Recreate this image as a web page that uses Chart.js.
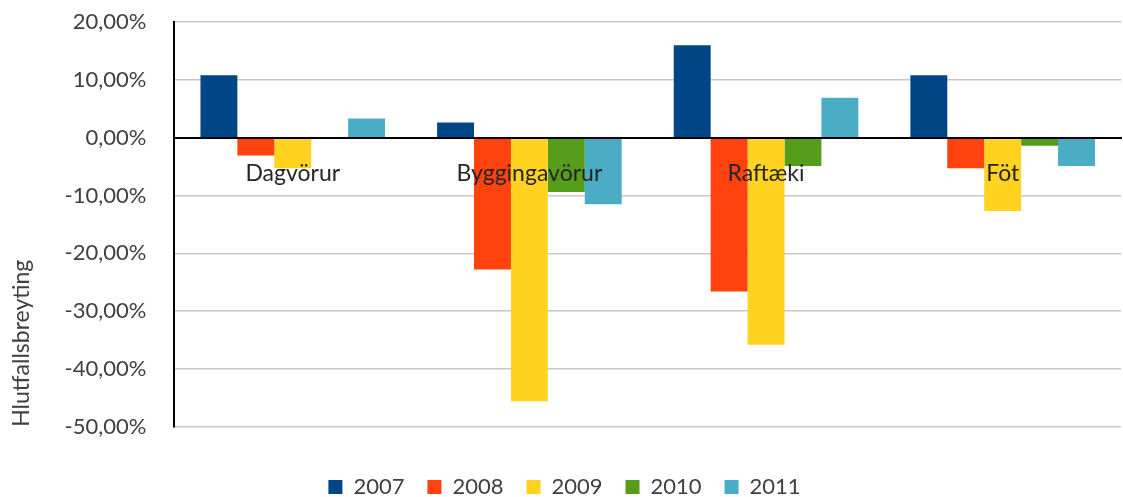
<!DOCTYPE html>
<html>
<head>
<meta charset="utf-8">
<script src="https://cdn.jsdelivr.net/npm/chart.js@4"></script>
<style>
html,body{margin:0;padding:0;background:#fff;}
#wrap{width:1123px;height:497px;}
</style>
</head>
<body>
<div id="wrap"><canvas id="c" width="1123" height="497"></canvas></div>
<script>
const categories = ["Dagvörur", "Byggingavörur", "Raftæki", "Föt"];
const years = ["2007", "2008", "2009", "2010", "2011"];
const v2007 = [10.8, 2.6, 16.0, 10.8];
const v2008 = [-3.1, -22.8, -26.6, -5.3];
const v2009 = [-5.3, -45.6, -35.8, -12.7];
const v2010 = [0.0, -9.4, -4.9, -1.4];
const v2011 = [3.3, -11.5, 6.9, -4.9];
const yTicks = [-50, -40, -30, -20, -10, 0, 10, 20];
const colors = ["#004586", "#ff420e", "#ffd320", "#579d1c", "#4bacc6"];
const seriesValues = [v2007, v2008, v2009, v2010, v2011];

const fontFam = "Lato, 'Open Sans', sans-serif";

new Chart(document.getElementById('c'), {
  type: 'bar',
  data: {
    labels: categories,
    datasets: years.map((y, i) => ({
      label: y,
      data: seriesValues[i],
      backgroundColor: colors[i],
      borderWidth: 0,
      categoryPercentage: 0.78,
      barPercentage: 1.0
    }))
  },
  options: {
    responsive: false,
    animation: false,
    layout: { padding: { top: 22, right: 2, left: 8, bottom: -11 } },
    plugins: {
      legend: {
        position: 'bottom',
        title: { display: true, text: ' ', font: { size: 1 }, padding: { top: 25, bottom: 0 } },
        labels: {
          boxWidth: 14, boxHeight: 14, padding: 23,
          color: '#404040',
          font: { family: fontFam, size: 22 }
        }
      },
      tooltip: { enabled: false }
    },
    scales: {
      x: {
        type: 'category',
        position: { y: 0 },
        grid: { display: false, drawTicks: false },
        border: { display: true, color: '#000', width: 2, z: 1 },
        ticks: {
          z: 1,
          padding: 22,
          color: '#262626',
          font: { family: fontFam, size: 23 }
        }
      },
      y: {
        min: -50, max: 20,
        afterBuildTicks: (s) => { s.ticks = yTicks.map(v => ({ value: v })); },
        grid: { color: '#c8c8c8', lineWidth: 1.5, drawTicks: true, tickLength: 28, tickColor: 'rgba(0,0,0,0)' },
        border: { display: true, color: '#000', width: 2 },
        ticks: {
          padding: 0,
          color: '#404040',
          font: { family: fontFam, size: 22 },
          callback: (v) => v.toFixed(2).replace('.', ',') + '%'
        },
        title: {
          display: true,
          text: 'Hlutfallsbreyting',
          align: 'start',
          color: '#404040',
          font: { family: fontFam, size: 23 },
          padding: { top: 0, bottom: 29 }
        }
      }
    }
  }
});
</script>
</body>
</html>
